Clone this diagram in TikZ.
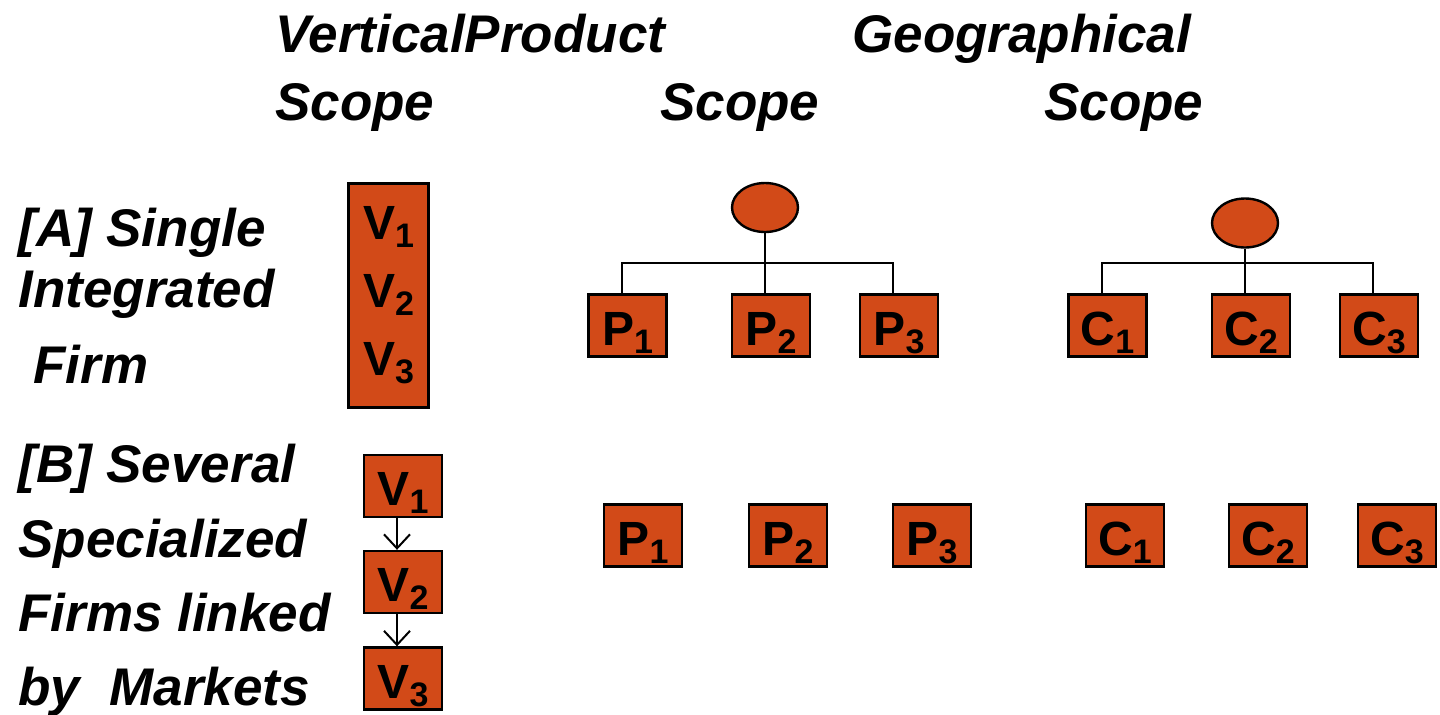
\documentclass[tikz,border=0pt]{standalone}
\usepackage{fontspec}
\setmainfont{Liberation Sans}
\usetikzlibrary{shapes.geometric,arrows.meta}
\definecolor{firmfill}{RGB}{210,74,24}
\newcommand\ix[1]{\raisebox{-4pt}{\fontsize{17}{17}\selectfont #1}}

\begin{document}
\begin{tikzpicture}[x=0.5pt,y=-0.5pt,
  lbl/.style={anchor=base west, inner sep=0pt, font=\fontsize{26.5}{26.5}\selectfont\bfseries\itshape},
  unitbox/.style={draw=black, line width=1.2pt, fill=firmfill, minimum width=39pt, minimum height=31pt,
    inner sep=0pt, text height=24pt, text depth=4.5pt, font=\fontsize{24}{24}\selectfont\bfseries},
  chainbox/.style={draw=black, line width=1.2pt, fill=firmfill, minimum width=40pt, minimum height=112pt,
    inner sep=0pt, align=center, font=\fontsize{24}{34}\selectfont\bfseries},
  hq/.style={ellipse, draw=black, line width=1.2pt, fill=firmfill, minimum width=33pt, minimum height=24.5pt, inner sep=0pt},
  link/.style={line width=1pt},
  flow/.style={line width=1pt, -{Straight Barb[length=7pt,width=13pt]}}]
  \useasboundingbox (0,0) rectangle (1440,714);

  % column heads
  \node[lbl] (headv) at (275,52) {VerticalProduct};
  \node[lbl] (headg) at (852,52) {Geographical};
  \node[lbl] (scopev) at (275,120) {Scope};
  \node[lbl] (scopep) at (660,120) {Scope};
  \node[lbl] (scopeg) at (1044,120) {Scope};

  % row heads
  \node[lbl] (rowa1) at (18,246) {[A] Single};
  \node[lbl] (rowa2) at (18,307) {Integrated};
  \node[lbl] (rowa3) at (33,383) {Firm};
  \node[lbl] (rowb1) at (18,482) {[B] Several};
  \node[lbl] (rowb2) at (18,557) {Specialized};
  \node[lbl] (rowb3) at (18,631) {Firms linked};
  \node[lbl] (rowb4) at (18,705) {by\ \ Markets};

  % [A] integrated firm
  \node[chainbox] (vall) at (388.5,295.5) {V\ix1\\V\ix2\\V\ix3};

  \node[hq] (hqp) at (765,207.5) {};
  \node[unitbox] (pa1) at (627.5,325.5) {P\ix1};
  \node[unitbox] (pa2) at (771,325.5) {P\ix2};
  \node[unitbox] (pa3) at (899,325.5) {P\ix3};
  \coordinate (pbar) at (765,263);
  \draw[link] (hqp.south) -- ([xshift=-3pt]pa2.north);
  \draw[link] ([xshift=-3pt]pa1.north) |- (pbar) -| ([xshift=-3pt]pa3.north);

  \node[hq] (hqc) at (1245,223) {};
  \node[unitbox] (ca1) at (1107.5,325.5) {C\ix1};
  \node[unitbox] (ca2) at (1251,325.5) {C\ix2};
  \node[unitbox] (ca3) at (1379,325.5) {C\ix3};
  \coordinate (cbar) at (1245,263);
  \draw[link] (hqc.south) -- ([xshift=-3pt]ca2.north);
  \draw[link] ([xshift=-3pt]ca1.north) |- (cbar) -| ([xshift=-3pt]ca3.north);

  % [B] specialized firms
  \node[unitbox] (vb1) at (403,486) {V\ix1};
  \node[unitbox] (vb2) at (403,582) {V\ix2};
  \node[unitbox] (vb3) at (403,678.5) {V\ix3};
  \draw[flow] ([xshift=-3pt]vb1.south) -- ([xshift=-3pt]vb2.north);
  \draw[flow] ([xshift=-3pt]vb2.south) -- ([xshift=-3pt]vb3.north);

  \node[unitbox] (pb1) at (643,535.5) {P\ix1};
  \node[unitbox] (pb2) at (788,535.5) {P\ix2};
  \node[unitbox] (pb3) at (932,535.5) {P\ix3};
  \node[unitbox] (cb1) at (1125,535.5) {C\ix1};
  \node[unitbox] (cb2) at (1268,535.5) {C\ix2};
  \node[unitbox] (cb3) at (1397,535.5) {C\ix3};
\end{tikzpicture}
\end{document}
